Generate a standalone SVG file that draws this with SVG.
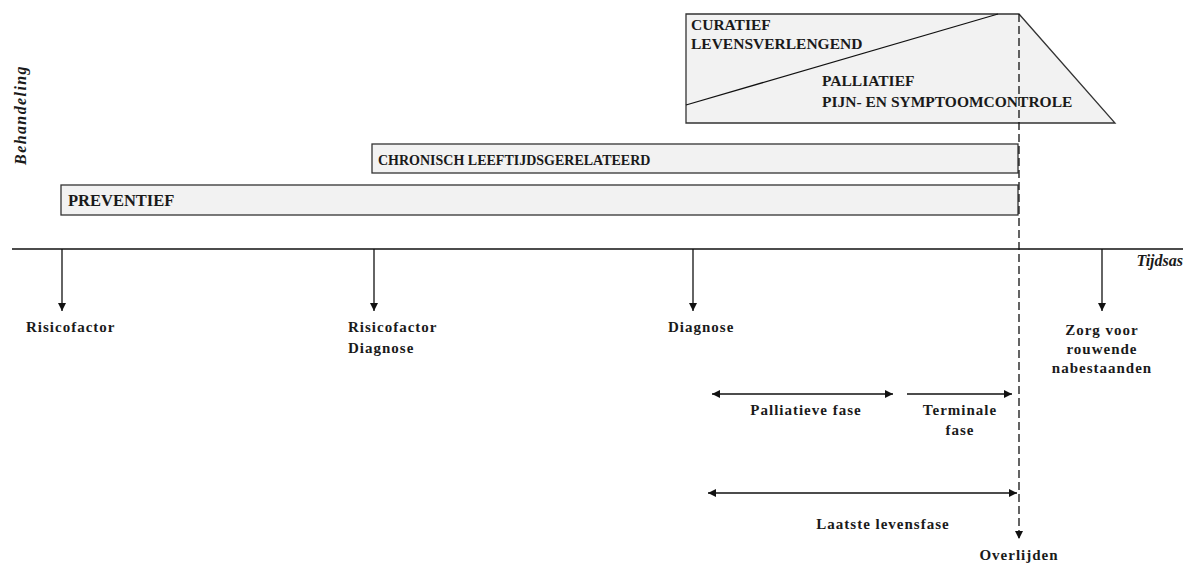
<svg xmlns="http://www.w3.org/2000/svg" width="1189" height="565" viewBox="0 0 1189 565">
<style>
.box{fill:#f2f2f2;stroke:#333;stroke-width:1.3}
.ln{stroke:#111;stroke-width:1.3;fill:none}
.cap{font-size:15.5px}
.lab{font-size:15px;letter-spacing:1px}
.it{font-style:italic;font-size:16px}
</style>
<defs>
<marker id="ah" viewBox="0 0 10 10" refX="10" refY="5" markerWidth="8" markerHeight="8" markerUnits="userSpaceOnUse" orient="auto-start-reverse">
<path d="M0,0 L10,5 L0,10 z" fill="#111"/>
</marker>
</defs>
<rect width="1189" height="565" fill="#fff"/>
<g font-family="Liberation Serif" font-weight="bold" fill="#1a1a1a">
<text class="it" transform="translate(26,115) rotate(-90)" text-anchor="middle" style="letter-spacing:1.4px">Behandeling</text>
<g id="palliatief-curatief">
<polygon class="box" points="686,14 1019,14 1115,123 686,123"/>
<line class="ln" x1="686" y1="105" x2="998" y2="14" stroke="#222"/>
<text class="cap" x="691" y="30">CURATIEF</text>
<text class="cap" x="691" y="49">LEVENSVERLENGEND</text>
<text class="cap" x="822" y="86">PALLIATIEF</text>
<text class="cap" x="822" y="107">PIJN- EN SYMPTOOMCONTROLE</text>
</g>
<g id="chronisch">
<rect class="box" x="372" y="144" width="646" height="29"/>
<text x="378" y="165" font-size="14">CHRONISCH LEEFTIJDSGERELATEERD</text>
</g>
<g id="preventief">
<rect class="box" x="61" y="185" width="957" height="30"/>
<text x="68" y="206" font-size="16.5">PREVENTIEF</text>
</g>
<g id="tijdsas">
<line class="ln" x1="12" y1="249" x2="1183" y2="249"/>
<text class="it" x="1183" y="266" text-anchor="end">Tijdsas</text>
</g>
<g id="connectors">
<line class="ln" x1="62" y1="249" x2="62" y2="311" marker-end="url(#ah)"/>
<line class="ln" x1="374" y1="249" x2="374" y2="311" marker-end="url(#ah)"/>
<line class="ln" x1="693" y1="249" x2="693" y2="311" marker-end="url(#ah)"/>
<line class="ln" x1="1102" y1="249" x2="1102" y2="311" marker-end="url(#ah)"/>
<line class="ln" x1="1019" y1="14" x2="1019" y2="539" stroke-dasharray="8,4" stroke="#333" marker-end="url(#ah)"/>
<line class="ln" x1="712" y1="394" x2="893" y2="394" marker-start="url(#ah)" marker-end="url(#ah)"/>
<line class="ln" x1="907" y1="394" x2="1012" y2="394" marker-end="url(#ah)"/>
<line class="ln" x1="708" y1="493" x2="1017" y2="493" marker-start="url(#ah)" marker-end="url(#ah)"/>
</g>
<g id="risicofactor"><text class="lab" x="26" y="332">Risicofactor</text></g>
<g id="risicofactor-diagnose"><text class="lab" x="348" y="332">Risicofactor</text><text class="lab" x="348" y="353">Diagnose</text></g>
<g id="diagnose"><text class="lab" x="668" y="332">Diagnose</text></g>
<g id="zorg" text-anchor="middle"><text class="lab" x="1102" y="335">Zorg voor</text><text class="lab" x="1102" y="354">rouwende</text><text class="lab" x="1102" y="373">nabestaanden</text></g>
<g id="palliatieve-fase" text-anchor="middle"><text class="lab" x="806" y="415">Palliatieve fase</text></g>
<g id="terminale-fase" text-anchor="middle"><text class="lab" x="960" y="415">Terminale</text><text class="lab" x="960" y="435">fase</text></g>
<g id="laatste-levensfase" text-anchor="middle"><text class="lab" x="883" y="529">Laatste levensfase</text></g>
<g id="overlijden" text-anchor="middle"><text class="lab" x="1019" y="560">Overlijden</text></g>
</g>
</svg>
